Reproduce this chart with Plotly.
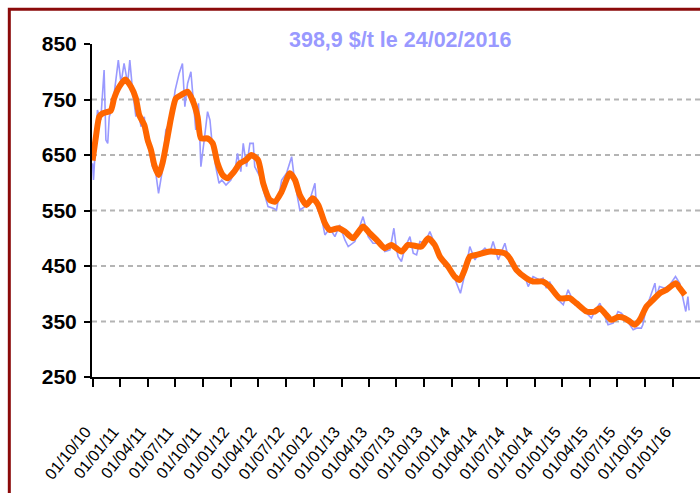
import plotly.graph_objects as go

# Smoothed (orange) series
orange_dates = [
    "2010-10-01", "2010-10-12", "2010-10-23", "2010-11-03", "2010-11-30", "2010-12-11", "2010-12-28",
    "2011-01-17", "2011-02-05", "2011-02-21", "2011-03-04", "2011-03-21", "2011-04-01", "2011-04-12",
    "2011-04-23", "2011-05-07", "2011-05-20", "2011-06-06", "2011-06-17", "2011-07-03", "2011-07-20",
    "2011-08-11", "2011-08-27", "2011-09-13", "2011-09-24", "2011-10-16", "2011-11-02", "2011-11-18",
    "2011-12-05", "2011-12-21", "2012-01-12", "2012-01-31", "2012-02-20", "2012-03-09", "2012-03-31",
    "2012-04-17", "2012-05-09", "2012-05-26", "2012-06-17", "2012-07-14", "2012-07-31", "2012-08-16",
    "2012-09-07", "2012-09-27", "2012-10-16", "2012-11-07", "2012-11-23", "2012-12-21", "2013-01-12",
    "2013-02-08", "2013-03-13", "2013-04-04", "2013-04-27", "2013-05-24", "2013-06-15", "2013-07-18",
    "2013-08-09", "2013-09-22", "2013-10-14", "2013-11-05", "2013-11-22", "2013-12-19", "2014-01-10",
    "2014-01-27", "2014-02-12", "2014-03-01", "2014-03-23", "2014-05-06", "2014-06-25", "2014-07-11",
    "2014-08-02", "2014-09-04", "2014-09-26", "2014-10-29", "2014-11-20", "2014-12-23", "2015-01-25",
    "2015-02-16", "2015-03-22", "2015-04-18", "2015-05-05", "2015-05-21", "2015-06-12", "2015-07-04",
    "2015-07-26", "2015-08-12", "2015-08-28", "2015-09-14", "2015-10-06", "2015-10-28", "2015-11-19",
    "2015-12-11", "2016-01-11", "2016-01-24", "2016-02-10",
]
orange_values = [
    640, 683, 719, 725, 730, 752, 773,
    786, 773, 752, 722, 704, 677, 659,
    632, 614, 635, 683, 716, 752, 758,
    764, 749, 719, 680, 680, 671, 635,
    614, 608, 620, 635, 641, 650, 641,
    599, 569, 566, 584, 617, 605, 578,
    560, 572, 560, 527, 515, 518, 512,
    500, 521, 509, 497, 482, 488, 476,
    488, 485, 500, 488, 467, 449, 431,
    425, 443, 467, 470, 476, 473, 464,
    443, 428, 422, 422, 413, 392, 392,
    383, 368, 368, 374, 365, 353, 358,
    356, 350, 344, 353, 377, 389, 401,
    407, 419, 410, 398,
]

# Daily price (blue) series
blue_dates = [
    "2010-10-01", "2010-10-04", "2010-10-17", "2010-10-28", "2010-11-08", "2010-11-14", "2010-11-20",
    "2010-11-25", "2010-12-06", "2010-12-17", "2010-12-25", "2011-01-03", "2011-01-13", "2011-01-25",
    "2011-02-01", "2011-02-10", "2011-02-21", "2011-02-27", "2011-03-10", "2011-03-21", "2011-03-26",
    "2011-04-06", "2011-04-17", "2011-04-28", "2011-05-07", "2011-05-18", "2011-05-31", "2011-06-17",
    "2011-07-01", "2011-07-14", "2011-07-25", "2011-08-02", "2011-08-11", "2011-08-22", "2011-08-29",
    "2011-09-07", "2011-09-16", "2011-09-24", "2011-10-05", "2011-10-16", "2011-10-24", "2011-10-30",
    "2011-11-12", "2011-11-23", "2011-12-02", "2011-12-16", "2012-01-01", "2012-01-15", "2012-01-23",
    "2012-02-03", "2012-02-11", "2012-02-22", "2012-03-04", "2012-03-15", "2012-03-20", "2012-04-06",
    "2012-04-22", "2012-05-03", "2012-05-20", "2012-05-31", "2012-06-17", "2012-07-03", "2012-07-20",
    "2012-07-31", "2012-08-16", "2012-09-02", "2012-09-18", "2012-10-05", "2012-10-10", "2012-10-27",
    "2012-11-07", "2012-11-23", "2012-12-10", "2012-12-26", "2013-01-12", "2013-01-23", "2013-02-14",
    "2013-03-13", "2013-03-30", "2013-04-15", "2013-05-08", "2013-05-24", "2013-06-10", "2013-06-23",
    "2013-07-02", "2013-07-07", "2013-07-18", "2013-07-29", "2013-08-15", "2013-08-26", "2013-09-06",
    "2013-09-17", "2013-10-03", "2013-10-20", "2013-10-31", "2013-11-22", "2013-12-14", "2014-01-05",
    "2014-01-16", "2014-01-29", "2014-02-12", "2014-03-01", "2014-03-18", "2014-03-28", "2014-04-20",
    "2014-05-06", "2014-05-17", "2014-06-03", "2014-06-25", "2014-07-11", "2014-08-02", "2014-08-30",
    "2014-09-10", "2014-09-26", "2014-10-18", "2014-10-29", "2014-11-09", "2014-11-20", "2014-12-13",
    "2015-01-04", "2015-01-20", "2015-01-31", "2015-02-11", "2015-03-05", "2015-03-22", "2015-04-07",
    "2015-04-18", "2015-05-05", "2015-05-21", "2015-06-01", "2015-06-18", "2015-07-04", "2015-07-15",
    "2015-08-01", "2015-08-23", "2015-09-03", "2015-09-19", "2015-09-24", "2015-10-06", "2015-10-17",
    "2015-11-03", "2015-11-08", "2015-11-18", "2015-12-06", "2015-12-22", "2016-01-02", "2016-01-10",
    "2016-01-24", "2016-02-04", "2016-02-13", "2016-02-20", "2016-02-24",
]
blue_values = [
    635, 605, 731, 713, 803, 677, 671,
    719, 737, 791, 821, 779, 815, 779,
    821, 767, 719, 737, 701, 719, 677,
    659, 629, 617, 581, 617, 695, 713,
    767, 797, 815, 737, 779, 800, 749,
    695, 743, 629, 677, 728, 713, 677,
    629, 599, 605, 596, 605, 623, 653,
    620, 671, 629, 671, 671, 629, 611,
    578, 557, 554, 551, 605, 617, 647,
    599, 551, 557, 569, 599, 557, 536,
    506, 518, 503, 524, 497, 485, 494,
    539, 503, 491, 491, 476, 479, 518,
    479, 467, 458, 482, 503, 473, 470,
    494, 491, 512, 497, 464, 449, 437,
    419, 401, 434, 485, 461, 470, 482,
    473, 494, 461, 491, 455, 440, 431,
    413, 431, 425, 428, 410, 422, 392,
    380, 407, 395, 380, 377, 365, 356,
    368, 383, 359, 344, 347, 368, 365,
    353, 335, 338, 338, 344, 377, 392,
    419, 395, 413, 410, 416, 425, 431,
    419, 389, 368, 395, 370,
]

tick_dates = [
    "2010-10-01", "2011-01-01", "2011-04-01", "2011-07-01", "2011-10-01", "2012-01-01",
    "2012-04-01", "2012-07-01", "2012-10-01", "2013-01-01", "2013-04-01", "2013-07-01",
    "2013-10-01", "2014-01-01", "2014-04-01", "2014-07-01", "2014-10-01", "2015-01-01",
    "2015-04-01", "2015-07-01", "2015-10-01", "2016-01-01",
]
tick_labels = [
    "01/10/10", "01/01/11", "01/04/11", "01/07/11", "01/10/11", "01/01/12",
    "01/04/12", "01/07/12", "01/10/12", "01/01/13", "01/04/13", "01/07/13",
    "01/10/13", "01/01/14", "01/04/14", "01/07/14", "01/10/14", "01/01/15",
    "01/04/15", "01/07/15", "01/10/15", "01/01/16",
]
y_ticks = [250, 350, 450, 550, 650, 750, 850]
grid_levels = [350, 450, 550, 650, 750]
title_text = "398,9 $/t le 24/02/2016"

FONT = "Liberation Sans, Arial, sans-serif"

fig = go.Figure()
fig.add_trace(go.Scatter(
    x=blue_dates, y=blue_values, mode="lines",
    line=dict(color="#9999FF", width=1.6), hoverinfo="skip", showlegend=False,
))
fig.add_trace(go.Scatter(
    x=orange_dates, y=orange_values, mode="lines",
    line=dict(color="#FF6600", width=6, shape="spline", smoothing=0.6),
    showlegend=False,
))

for g in grid_levels:
    fig.add_shape(type="line", xref="paper", x0=0, x1=1, yref="y", y0=g, y1=g,
                  line=dict(color="#B4B4B4", width=2, dash="5px,4px"), layer="below")

# dark red frame
fig.add_shape(type="rect", xref="paper", yref="paper",
              x0=-0.136, x1=1.3, y0=-0.6, y1=1.104,
              line=dict(color="#8B0A0A", width=3), layer="below")

fig.add_annotation(text="<b>" + title_text + "</b>", xref="paper", yref="paper",
                   x=0.507, y=1.012, xanchor="center", yanchor="middle", showarrow=False,
                   font=dict(family=FONT, size=21.5, color="#9999FF"))

fig.update_layout(
    width=700, height=493,
    margin=dict(l=92, r=0, t=44, b=116),
    paper_bgcolor="white", plot_bgcolor="white",
    xaxis=dict(
        type="date", range=["2010-09-29", "2016-03-31"],
        tickvals=tick_dates, ticktext=tick_labels, tickangle=-51,
        showgrid=False, zeroline=False,
        showline=True, linecolor="black", linewidth=2,
        ticks="outside", ticklen=8, tickwidth=2, tickcolor="black",
        ticklabelstandoff=29, ticklabelshift=-7,
        tickfont=dict(family=FONT, size=16, color="black"),
    ),
    yaxis=dict(
        range=[250, 850], tickvals=y_ticks,
        ticktext=["<b>%d</b>" % v for v in y_ticks],
        showgrid=False, zeroline=False,
        showline=True, linecolor="black", linewidth=2,
        ticks="outside", ticklen=6, tickwidth=2, tickcolor="black",
        ticklabelstandoff=3,
        tickfont=dict(family=FONT, size=21, color="black"),
    ),
)

fig.write_html(
    "out.html",
    config={"displayModeBar": False},
    post_script="document.body.style.margin='0';document.body.style.overflow='hidden';",
)
